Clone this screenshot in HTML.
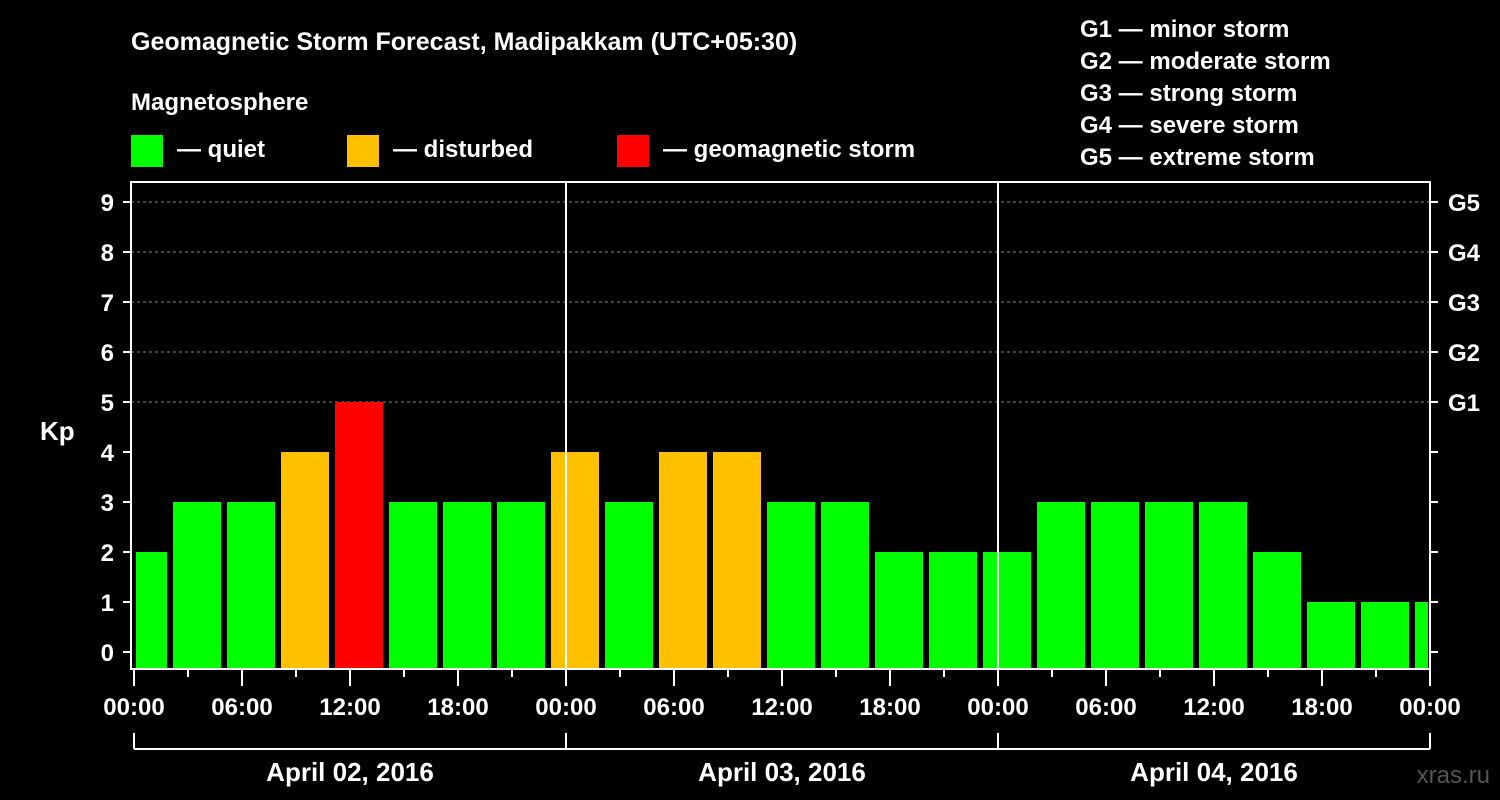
<!DOCTYPE html>
<html><head><meta charset="utf-8"><style>
html,body{margin:0;padding:0;background:#000;}
svg{display:block;font-family:"Liberation Sans",Arial,sans-serif;font-weight:bold;}
</style></head><body>
<svg id="chart" width="1500" height="800" viewBox="0 0 1500 800">
<rect width="1500" height="800" fill="#000"/>
<text x="131" y="50" fill="#fff" font-size="25">Geomagnetic Storm Forecast, Madipakkam (UTC+05:30)</text>
<text x="131" y="110" fill="#fff" font-size="24">Magnetosphere</text>
<g><rect x="131" y="135" width="32" height="32" fill="#00ff00"/><text x="177" y="157" fill="#fff" font-size="24">— quiet</text></g>
<g><rect x="347" y="135" width="32" height="32" fill="#ffc000"/><text x="393" y="157" fill="#fff" font-size="24">— disturbed</text></g>
<g><rect x="617" y="135" width="32" height="32" fill="#ff0000"/><text x="663" y="157" fill="#fff" font-size="24">— geomagnetic storm</text></g>
<g fill="#fff" font-size="24">
<text x="1080" y="37">G1 — minor storm</text>
<text x="1080" y="69">G2 — moderate storm</text>
<text x="1080" y="101">G3 — strong storm</text>
<text x="1080" y="133">G4 — severe storm</text>
<text x="1080" y="165">G5 — extreme storm</text>
</g>
<text x="40" y="440" fill="#fff" font-size="26">Kp</text>
<text x="1490" y="783" fill="#555" font-size="24" text-anchor="end" font-weight="normal">xras.ru</text>
<g id="plot"></g>
</svg>
<script>
const kpValues=[2,3,3,4,5,3,3,3,4,3,4,4,3,3,2,2,2,3,3,3,3,2,1,1,1];
const yTicks=[0,1,2,3,4,5,6,7,8,9];
const gLabels=["G1","G2","G3","G4","G5"];
const xTickLabels=["00:00","06:00","12:00","18:00","00:00","06:00","12:00","18:00","00:00","06:00","12:00","18:00","00:00"];
const dayLabels=["April 02, 2016","April 03, 2016","April 04, 2016"];
const firstBarStartHour=-1; // local start hour of first (clipped) slot
const NS="http://www.w3.org/2000/svg";
const g=document.getElementById('plot');
const X0=134,PX_H=18,XMAX=1430,YTOP=182,YBOT=669;
const x=h=>X0+h*PX_H;
const y=v=>652-v*50;
function el(t,a,p){const e=document.createElementNS(NS,t);for(const k in a)e.setAttribute(k,a[k]);(p||g).appendChild(e);return e;}
// gridlines
yTicks.forEach(v=>{if(v>=5){const l=el('line',{x1:131,x2:XMAX,y1:y(v),y2:y(v),stroke:'#888','stroke-dasharray':'3,3','stroke-width':1});

}});
// bars
kpValues.forEach((v,i)=>{
 const s=x(firstBarStartHour+3*i)+3, e=x(firstBarStartHour+3*i+3)-3;
 const a=Math.max(s,136), b=Math.min(e,XMAX-2);
 const col=v>=5?'#ff0000':(v>=4?'#ffc000':'#00ff00');
 const r=el('rect',{x:a,y:y(v),width:b-a,height:YBOT-1-y(v),fill:col});
 
 
});
// day separators
[1,2].forEach(d=>{const l=el('line',{x1:x(24*d),x2:x(24*d),y1:YTOP,y2:YBOT,stroke:'#fff','stroke-width':2});

});
// frame
const fr=el('rect',{x:131,y:YTOP,width:XMAX-131,height:YBOT-YTOP,fill:'none',stroke:'#fff','stroke-width':2});


// y ticks
yTicks.forEach(v=>{
 el('line',{x1:123,x2:131,y1:y(v),y2:y(v),stroke:'#fff','stroke-width':2});
 el('line',{x1:XMAX,x2:XMAX+8,y1:y(v),y2:y(v),stroke:'#fff','stroke-width':2});
 const t=el('text',{x:114,y:y(v)+9,fill:'#fff','font-size':24,'text-anchor':'end'});t.textContent=v;
 
 
});
gLabels.forEach((s,i)=>{const t=el('text',{x:1448,y:y(5+i)+9,fill:'#fff','font-size':24});t.textContent=s;
 
 });
// x ticks
for(let h=0;h<=72;h+=3){const major=h%6===0;el('line',{x1:x(h),x2:x(h),y1:YBOT,y2:major?686:677,stroke:'#fff','stroke-width':2});}
xTickLabels.forEach((s,i)=>{const t=el('text',{x:x(6*i),y:715,fill:'#fff','font-size':24,'text-anchor':'middle'});t.textContent=s;
 
 });
// day brackets
el('line',{x1:x(0),x2:x(72),y1:749,y2:749,stroke:'#fff','stroke-width':2});
for(let d=0;d<=3;d++)el('line',{x1:x(24*d),x2:x(24*d),y1:733,y2:749,stroke:'#fff','stroke-width':2});
dayLabels.forEach((s,i)=>{const t=el('text',{x:x(24*i+12),y:781,fill:'#fff','font-size':26,'text-anchor':'middle'});t.textContent=s;
 
 });
</script>
</body></html>
